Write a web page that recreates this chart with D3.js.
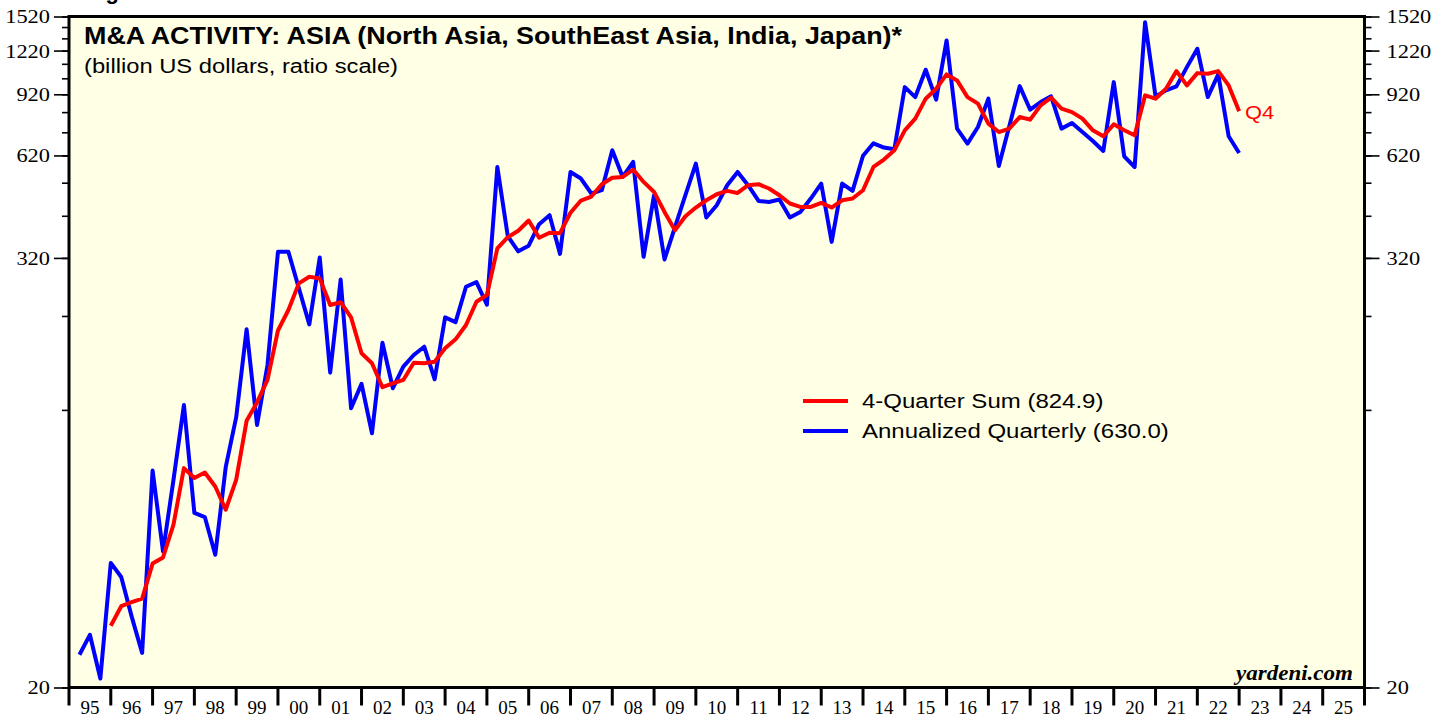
<!DOCTYPE html>
<html>
<head>
<meta charset="utf-8">
<script src="https://cdn.jsdelivr.net/npm/d3@7"></script>
<style>
  body { margin: 0; background: #fff; }
  svg { display: block; }
</style>
</head>
<body>
<svg id="chart" width="1446" height="717"></svg>
<script>
// quarterly data, first point = 1995 Q1
const startYear = 1995;
const annualizedQuarterly = [
  24.7, 28.1, 21.2, 44.7,   40.8, 31.6, 25.0, 81.1,   48.1, 76.4, 123.9, 61.7,
  60.1, 47.1, 82.9, 114.3,  201.8, 108.9, 160.3, 332.8, 332.8, 263.4, 208.4, 320.9,
  152.6, 278.2, 121.3, 141.9, 103.2, 185.1, 138.0, 158.6, 171.0, 180.4, 146.2, 218.0,
  211.5, 265.6, 273.8, 236.5, 575.5, 368.2, 333.9, 346.4, 397.9, 421.6, 328.5, 557.3,
  534.1, 485.0, 495.4, 641.0, 539.7, 594.4, 322.2, 479.7, 316.9, 390.2, 479.7, 588.3,
  415.4, 449.6, 511.6, 557.3, 511.6, 462.2, 459.3, 466.4, 415.4, 430.6, 469.4, 517.2,
  354.9, 517.2, 493.2, 618.6, 670.6, 652.3, 645.1, 963.7, 903.6, 1078.1, 888.6, 1302.2,
  737.2, 669.3, 744.8, 894.3, 579.2, 748.2, 970.0, 833.0, 874.9, 907.7, 737.2, 764.3,
  721.1, 680.6, 638.1, 995.3, 616.6, 575.5, 1465.1, 907.7, 943.5, 968.2, 1096.4, 1234.4,
  903.6, 1045.9, 701.5, 630.0
];
// 4-quarter sum, first point = 1995 Q4
const sumStartIndex = 3;
const fourQuarterSum = [
  29.8,
  33.8, 34.7, 35.5, 44.5,   46.3, 57.2, 82.4, 77.3,   80.1, 73.2, 63.0, 76.4,
  111.8, 125.9, 145.6, 200.3, 228.6, 271.5, 283.3, 280.4, 236.1, 240.4, 218.0, 172.9,
  162.1, 138.9, 142.5, 145.6, 162.7, 162.1, 163.8, 178.6, 189.2, 207.5, 241.2, 251.8,
  340.2, 365.8, 381.4, 407.4, 364.6, 376.6, 375.4, 428.4, 463.4, 475.5, 514.9, 536.9,
  539.7, 566.0, 522.6, 489.9, 430.6, 382.7, 418.9, 443.0, 464.3, 482.6, 493.2, 486.7,
  511.6, 514.9, 500.8, 479.7, 454.6, 444.7, 444.7, 456.3, 443.0, 464.3, 469.4, 495.4,
  575.5, 603.7, 641.0, 729.2, 786.2, 894.3, 953.8, 1045.9, 1006.3, 903.6, 866.0, 761.4,
  721.1, 737.2, 794.3, 781.1, 856.5, 900.1, 838.4, 820.2, 786.2, 729.2, 701.5, 757.9,
  729.2, 706.0, 913.6, 894.3, 953.8, 1068.4, 974.5, 1054.7, 1050.6, 1068.4, 974.5, 824.9
];
const yearLabels = ['95','96','97','98','99','00','01','02','03','04','05','06','07','08','09','10',
  '11','12','13','14','15','16','17','18','19','20','21','22','23','24','25'];
const yMajorTicks = [20, 320, 620, 920, 1220, 1520];
const yMinorTicks = d3.range(20, 1521, 100);

const titleText = 'M&A ACTIVITY: ASIA (North Asia, SouthEast Asia, India, Japan)*';
const subtitleText = '(billion US dollars, ratio scale)';
const legendItems = [
  {label: '4-Quarter Sum (824.9)', color: '#ff0000'},
  {label: 'Annualized Quarterly (630.0)', color: '#0000ff'}
];

// layout
let plotLeft = 69, plotRight = 1364.5, plotTop = 16.5, plotBottom = 687.5;
const svg = d3.select('#chart');
const serif = 'Liberation Serif, Times New Roman, serif';
const sans = 'Liberation Sans, Arial, sans-serif';

// the original lettering is a bit wider than the installed fonts
function widen(sel, factor){
  sel.each(function(){
    d3.select(this)
      .attr('textLength', this.getComputedTextLength() * factor)
      .attr('lengthAdjust', 'spacingAndGlyphs');
  });
}

const xScale = d3.scaleLinear()
  .domain([startYear, startYear + yearLabels.length])
  .range([plotLeft, plotRight]);

const yScale = d3.scaleLog()
  .domain([20, 1520])
  .range([plotBottom, plotTop]);

// quarter i is plotted at the end of the quarter
const qx = (i) => xScale(startYear + (i + 1) / 4);

// cut off header line above chart
svg.append('text')
  .attr('x', 86).attr('y', -1)
  .style('font-family', sans)
  .style('font-weight', 'bold')
  .style('font-size', '22px')
  .text('Figure 4.');

// plot background
svg.append('rect')
  .attr('x', plotLeft).attr('y', plotTop)
  .attr('width', plotRight - plotLeft).attr('height', plotBottom - plotTop)
  .attr('fill', '#ffffe6');

// y axes, minor + major ticks, both sides
function yAxisPair(axisFn, xPos, isLeft){
  svg.append('g')
    .attr('transform', 'translate(' + xPos + ',0)')
    .call(axisFn(yScale).tickValues(yMinorTicks).tickSize(7).tickFormat(''))
    .call(g => g.select('.domain').remove())
    .selectAll('line').attr('stroke', '#000').attr('stroke-width', 1.6);

  const g = svg.append('g')
    .attr('transform', 'translate(' + xPos + ',0)')
    .call(axisFn(yScale).tickValues(yMajorTicks).tickSize(15).tickPadding(isLeft ? 4 : 7).tickFormat(d3.format('d')));
  g.select('.domain').remove();
  g.selectAll('line').attr('stroke', '#000').attr('stroke-width', 1.6);
  g.selectAll('text')
    .attr('fill', '#000')
    .attr('dy', '0.34em')
    .style('font-family', serif)
    .style('font-size', '19px')
    .attr('textLength', d => String(d).length * 11.2)
    .attr('lengthAdjust', 'spacingAndGlyphs');
}
yAxisPair(d3.axisLeft, plotLeft, true);
yAxisPair(d3.axisRight, plotRight, false);

// x axis: year ticks with labels between them
const xAxisG = svg.append('g');
xAxisG.selectAll('line')
  .data(d3.range(startYear, startYear + yearLabels.length + 1))
  .join('line')
    .attr('x1', d => xScale(d)).attr('x2', d => xScale(d))
    .attr('y1', plotBottom).attr('y2', plotBottom + 18)
    .attr('stroke', '#000').attr('stroke-width', 3);
xAxisG.selectAll('text')
  .data(yearLabels)
  .join('text')
    .attr('x', (d, i) => xScale(startYear + i + 0.5))
    .attr('y', 714)
    .attr('text-anchor', 'middle')
    .style('font-family', serif)
    .style('font-size', '19px')
    .text(d => d);

// lines
const line = d3.line()
  .x(d => qx(d.i))
  .y(d => yScale(d.v))
  .curve(d3.curveLinear);

const blueData = annualizedQuarterly.map((v, i) => ({i: i, v: v}));
const redData = fourQuarterSum.map((v, i) => ({i: i + sumStartIndex, v: v}));

svg.append('path')
  .datum(blueData)
  .attr('fill', 'none')
  .attr('stroke', '#0000ff')
  .attr('stroke-width', 4)
  .attr('stroke-linejoin', 'round')
  .attr('d', line);

svg.append('path')
  .datum(redData)
  .attr('fill', 'none')
  .attr('stroke', '#ff0000')
  .attr('stroke-width', 4)
  .attr('stroke-linejoin', 'round')
  .attr('d', line);

// frame
svg.append('rect')
  .attr('x', plotLeft).attr('y', plotTop)
  .attr('width', plotRight - plotLeft).attr('height', plotBottom - plotTop)
  .attr('fill', 'none')
  .attr('stroke', '#000')
  .attr('stroke-width', 3);

// titles
svg.append('text')
  .attr('x', 84).attr('y', 44)
  .style('font-family', sans)
  .style('font-weight', 'bold')
  .style('font-size', '23px')
  .text(titleText)
  .attr('textLength', 818)
  .attr('lengthAdjust', 'spacingAndGlyphs');

svg.append('text')
  .attr('x', 84).attr('y', 73)
  .style('font-family', sans)
  .style('font-size', '20px')
  .text(subtitleText)
  .attr('textLength', 314)
  .attr('lengthAdjust', 'spacingAndGlyphs');

// legend
const legend = svg.append('g').attr('transform', 'translate(803,401)');
legendItems.forEach((item, i) => {
  legend.append('line')
    .attr('x1', 0).attr('x2', 45)
    .attr('y1', i * 30).attr('y2', i * 30)
    .attr('stroke', item.color)
    .attr('stroke-width', 4);
  legend.append('text')
    .attr('x', 59).attr('y', i * 30 + 7)
    .style('font-family', sans)
    .style('font-size', '20px')
    .text(item.label)
    .call(widen, 1.2);
});

// last-point label
const lastRed = redData[redData.length - 1];
svg.append('text')
  .attr('x', qx(lastRed.i) + 6)
  .attr('y', yScale(lastRed.v) + 8)
  .attr('fill', '#ff0000')
  .style('font-family', sans)
  .style('font-size', '19px')
  .text('Q4')
  .call(widen, 1.15);

// source
svg.append('text')
  .attr('x', 1353).attr('y', 680)
  .attr('text-anchor', 'end')
  .style('font-family', serif)
  .style('font-weight', 'bold')
  .style('font-style', 'italic')
  .style('font-size', '21px')
  .text('yardeni.com')
  .attr('textLength', 117)
  .attr('lengthAdjust', 'spacingAndGlyphs');
</script>
</body>
</html>
